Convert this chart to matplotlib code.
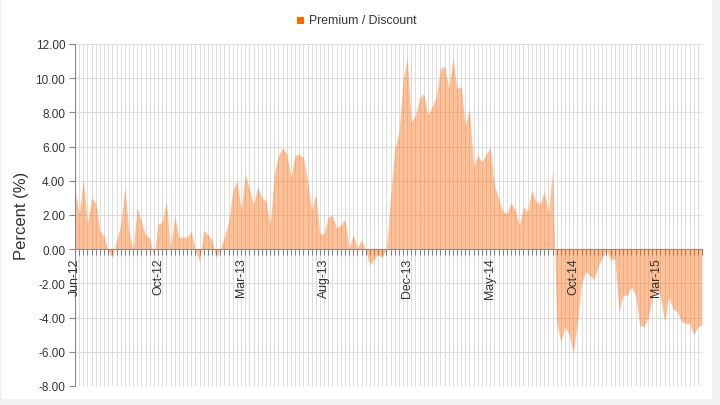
import matplotlib
matplotlib.use("Agg")
import matplotlib.pyplot as plt
from matplotlib.patches import Rectangle
from matplotlib.transforms import offset_copy
from matplotlib.ticker import MultipleLocator

plt.rcParams["font.family"] = ["Liberation Sans", "DejaVu Sans"]

# weekly premium / discount, Jun-12 .. Jun-15
premium = [
    3.5, 2.1, 4.1, 1.5, 3.0, 2.7, 1.1, 0.75, -0.1, -0.5,
    0.55, 1.4, 3.55, 0.95, 0.05, 2.4, 1.6, 0.85, 0.65, -0.45,
    1.45, 1.6, 2.8, 0.05, 1.95, 0.7, 0.7, 0.7, 1.05, -0.1,
    -0.7, 1.1, 0.85, 0.55, -0.5, 0.05, 0.75, 1.6, 3.4, 4.0,
    2.3, 4.4, 3.55, 2.6, 3.65, 3.0, 2.8, 1.4, 4.4, 5.5,
    5.9, 5.6, 4.25, 5.5, 5.55, 5.35, 4.0, 2.3, 3.2, 0.9,
    0.9, 1.9, 1.95, 1.25, 1.4, 1.75, 0.05, 0.85, 0.05, 0.55,
    -0.05, -0.95, -0.6, -0.3, -0.5, 0.05, 3.0, 5.9, 6.8, 9.9,
    11.15, 7.45, 7.85, 8.85, 9.1, 7.85, 8.35, 8.9, 10.6, 10.7,
    9.4, 11.15, 9.4, 9.5, 7.25, 8.15, 4.85, 5.5, 5.1, 5.55,
    5.95, 3.75, 3.0, 2.2, 2.1, 2.7, 2.3, 1.4, 2.45, 2.2,
    3.45, 2.8, 2.65, 3.35, 2.2, 4.55, -4.3, -5.4, -4.55, -5.0,
    -6.05, -4.3, -2.0, -1.3, -1.55, -1.75, -1.0, -0.5, -0.05, -0.65,
    -0.55, -3.65, -2.7, -2.7, -2.2, -2.7, -4.45, -4.55, -4.05, -2.9,
    -2.3, -2.8, -4.25, -2.8, -3.5, -3.65, -4.2, -4.35, -4.35, -5.0,
    -4.55, -4.45,
]
tick_labels = ["Jun-12", "Oct-12", "Mar-13", "Aug-13", "Dec-13", "May-14", "Oct-14", "Mar-15"]
tick_step = 20

x = list(range(len(premium)))

fig = plt.figure(figsize=(7.2, 4.06), dpi=100)
fig.patch.set_facecolor("#f2f2f2")
fig.patches.append(Rectangle((2 / 720, 6 / 406), 710 / 720, 400 / 406,
                             transform=fig.transFigure, facecolor="white",
                             edgecolor="none", zorder=-10))

ax = fig.add_axes([75 / 720, 1 - 387 / 406, 627 / 720, 342 / 406])
ax.set_facecolor("white")
ax.set_axisbelow(True)

ax.fill_between(x, premium, 0, color="#ff6600", alpha=0.4, linewidth=0, zorder=2)

ax.set_xlim(0, len(premium) - 1)
ax.set_ylim(-8, 12)
ax.set_yticks(range(-8, 13, 2))
ax.set_yticklabels([f"{v:.2f}" for v in range(-8, 13, 2)])
ax.xaxis.set_major_locator(MultipleLocator(1))

ax.grid(True, axis="both", color="#dddddd", linewidth=0.8)

for s in ["top", "right"]:
    ax.spines[s].set_visible(False)
ax.spines["left"].set_color("#888888")
ax.spines["bottom"].set_position(("data", 0))
ax.spines["bottom"].set_color("#9a8a80")
ax.spines["bottom"].set_zorder(3)

ax.tick_params(axis="y", direction="out", length=4, width=0.8, color="#888888",
               labelsize=8.5, labelcolor="#333333", pad=3)
ax.tick_params(axis="x", direction="out", length=4, width=0.8, color="#808080",
               labelbottom=False)

lab_trans = offset_copy(ax.transData, fig=fig, x=0, y=-6, units="points")
for k, lab in enumerate(tick_labels):
    ax.text(k * tick_step, 0, lab, rotation=90, ha="center", va="top",
            fontsize=8.8, color="#333333", transform=lab_trans, zorder=4)

ax.set_ylabel("Percent (%)", fontsize=12, color="#333333", labelpad=5)

# legend
fig.patches.append(Rectangle((297 / 720, 1 - 25 / 406), 7 / 720, 7 / 406,
                             transform=fig.transFigure, facecolor="#ff6600",
                             edgecolor="none"))
fig.text(309 / 720, 1 - 21.5 / 406, "Premium / Discount", fontsize=8.8,
         color="#333333", va="center", ha="left")

fig.savefig("out.png", dpi=100)
